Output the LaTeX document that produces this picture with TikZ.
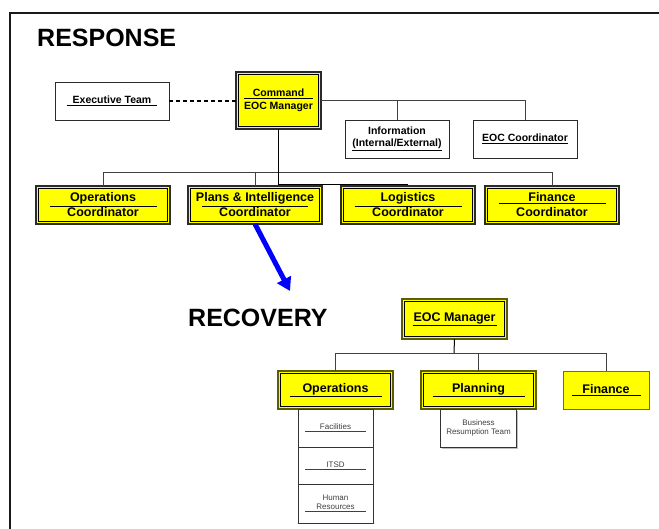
\documentclass[tikz,border=0pt]{standalone}
\usepackage{fontspec}
\setmainfont{Liberation Sans}
\usepackage{xcolor}
\definecolor{chartYellow}{HTML}{FFFF00}
\definecolor{lineDark}{HTML}{2B2B2B}
\definecolor{oliveEdge}{HTML}{5C5C00}
\definecolor{arrowBlue}{HTML}{0000FF}
\usetikzlibrary{positioning,calc,arrows.meta,shadows}
\newcommand{\ulword}[2]{\underline{\makebox[#1]{#2}}}
\tikzset{%
  titleText/.style={%
    anchor=base west,
    inner sep=0pt,
    font=\bfseries\fontsize{25}{30}\selectfont
  },
  coordBox/.style={%
    rectangle,
    draw=lineDark,
    line width=1.2pt,
    fill=chartYellow,
    minimum width=134pt,
    minimum height=38pt,
    inner sep=0pt,
    outer sep=0pt,
    align=center,
    font=\bfseries\fontsize{12.5}{15}\selectfont
  },
  innerEdge/.style={%
    draw=black,
    line width=0.8pt
  },
  cmdBox/.style={%
    coordBox,
    minimum width=85pt,
    minimum height=57pt,
    font=\bfseries\fontsize{10.5}{13.5}\selectfont
  },
  teamBox/.style={%
    rectangle,
    draw=lineDark,
    line width=0.8pt,
    fill=white,
    minimum width=114pt,
    minimum height=38pt,
    inner sep=0pt,
    outer sep=0pt,
    align=center,
    font=\bfseries\fontsize{10.5}{12}\selectfont
  },
  mgrBox/.style={%
    coordBox,
    draw=oliveEdge,
    line width=1.6pt,
    minimum width=115pt,
    minimum height=38pt
  },
  finBox/.style={%
    rectangle,
    draw=black!60,
    line width=0.9pt,
    fill=chartYellow,
    minimum width=86pt,
    minimum height=38pt,
    inner sep=0pt,
    outer sep=0pt,
    align=center,
    font=\bfseries\fontsize{12.5}{15}\selectfont
  },
  subBox/.style={%
    rectangle,
    draw=black!80,
    line width=0.7pt,
    fill=white,
    minimum width=75pt,
    minimum height=38pt,
    inner sep=0pt,
    outer sep=0pt,
    align=center,
    text=black!75,
    font=\fontsize{8}{9.5}\selectfont
  },
  orgLine/.style={%
    draw=black!75,
    line width=0.8pt
  },
  dashLink/.style={%
    draw=black,
    line width=1.5pt,
    dash pattern=on 4pt off 3pt
  },
  bigArrow/.style={%
    -{Triangle[length=13pt,width=15pt]},
    line width=5pt,
    color=arrowBlue
  },
  frameLine/.style={%
    draw=black!90,
    line width=2pt
  }
}

\begin{document}
\begin{tikzpicture}[x=1pt,y=-1pt]
  \useasboundingbox (0,0) rectangle (659,529);
  \draw[frameLine] (10,529) -- (10,13) -- (659,13);

  % response
  \node[titleText] (respTitle) at (37,47) {RESPONSE};
  \node[teamBox] (exec) at (112,101) {\ulword{91pt}{Executive Team}};
  \node[cmdBox] (cmd) at (278.5,100.5) {\ulword{69pt}{Command}\\EOC Manager};
  \node[teamBox, minimum width=104pt] (info) at (397,139) {Information\\\underline{(Internal/External)}};
  \node[teamBox, minimum width=104pt, right=24pt of info] (eocCoord) {\ulword{86pt}{EOC Coordinator}};

  \node[coordBox] (opsC) at (103,205) {\ulword{107pt}{Operations}\\Coordinator};
  \node[coordBox, right=18pt of opsC] (plansC) {\ulword{106pt}{Plans \& Intelligence}\\Coordinator};
  \node[coordBox, right=19pt of plansC] (logC) {\ulword{107pt}{Logistics}\\Coordinator};
  \node[coordBox, right=10pt of logC] (finC) {\ulword{107pt}{Finance}\\Coordinator};

  \coordinate (respBus) at (278,172);
  \coordinate (arrowTip) at (290,291);

  \draw[dashLink] (exec.east) -- (exec.east -| cmd.west);
  \draw[orgLine] (cmd.east) -| (eocCoord.north);
  \draw[orgLine] (info.north) -- (info.north |- cmd.east);
  \draw[orgLine] (opsC.north) -- (opsC.north |- respBus) -- (finC.north |- respBus) -- (finC.north);
  \draw[orgLine] (plansC.north) -- (plansC.north |- respBus);
  \draw[orgLine, draw=black] (cmd.south) -- ([yshift=1.5pt]cmd.south |- logC.north) -- ([yshift=1.5pt]logC.north);

  \draw[bigArrow] (plansC.south) -- (arrowTip);

  % recovery
  \node[titleText] (recTitle) at (188,327) {RECOVERY};
  \node[mgrBox, minimum width=105pt, minimum height=40pt] (eocM) at (454.5,319) {\ulword{84pt}{EOC Manager}};
  \node[mgrBox] (opsR) at (335.5,390) {\ulword{92pt}{Operations}};
  \node[mgrBox, right=28pt of opsR] (planR) {\ulword{92pt}{Planning}};
  \node[finBox, right=27pt of planR] (finR) {\ulword{69pt}{Finance}};

  \node[subBox, below=0pt of opsR] (facil) {\ulword{61pt}{Facilities}};
  \node[subBox, below=0pt of facil, minimum height=37pt] (itsd) {\ulword{61pt}{ITSD}};
  \node[subBox, below=0pt of itsd, minimum height=39pt] (hr) {Human\\\ulword{61pt}{Resources}};
  \node[subBox, below=0pt of planR, minimum width=76pt,
        drop shadow={shadow xshift=1pt, shadow yshift=-2pt, fill=black!50}] (brt) {Business\\Resumption Team};

  % inner edge of the double-bordered boxes
  \foreach \n in {cmd,opsC,plansC,logC,finC,eocM,opsR,planR}
    \draw[innerEdge] ([shift={(2.4pt,-2.4pt)}]\n.north west) rectangle ([shift={(-2.4pt,2.4pt)}]\n.south east);

  \coordinate (recBus) at (454,353);
  \draw[orgLine, draw=black, line width=1pt] (eocM.south) -- (recBus);
  \draw[orgLine] (opsR.north) -- (opsR.north |- recBus) -- (finR.north |- recBus) -- (finR.north);
  \draw[orgLine] (planR.north) -- (planR.north |- recBus);
\end{tikzpicture}
\end{document}
